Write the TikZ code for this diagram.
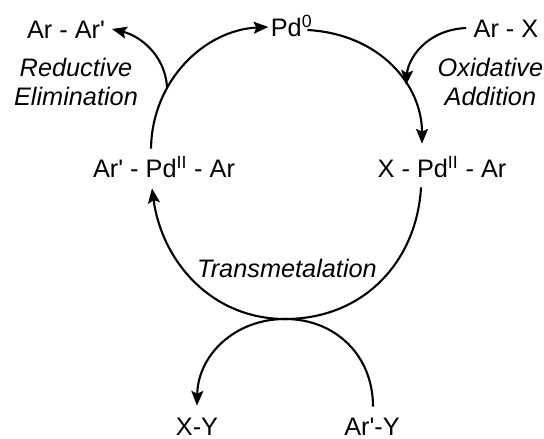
\documentclass[tikz,border=0pt]{standalone}
\usepackage{fontspec}
\setmainfont{Liberation Sans}
\usetikzlibrary{arrows.meta}
\tikzset{
    species/.style={font=\fontsize{18}{20.6}\selectfont, text height=13pt, text depth=0pt, inner xsep=1pt, inner ysep=6.5pt},
    stepname/.style={font=\fontsize{18}{20.6}\selectfont\itshape, align=center, inner sep=0pt}
}
\begin{document}
\begin{tikzpicture}[>={Stealth[length=10.5pt,width=8.5pt,inset=2pt]}, line width=1.5pt]
    \useasboundingbox (0, 0) rectangle (13.6, 10.975);

    % Species
    \node[species] (pdzero) at (7.29, 10.3) {Pd\textsuperscript{0}};
    \node[species] (arar) at (1.65, 10.25) {Ar - Ar\textquotesingle};
    \node[species] (arx) at (12.65, 10.275) {Ar - X};
    \node[species] (arpd) at (4.1, 6.775) {Ar\textquotesingle{} - Pd\textsuperscript{II} - Ar};
    \node[species] (xpd) at (11.05, 6.775) {X - Pd\textsuperscript{II} - Ar};
    \node[species] (xy) at (4.925, 0.31) {X-Y};
    \node[species] (ary) at (9.3, 0.31) {Ar\textquotesingle-Y};

    % Steps
    \node[stepname] (reductive) at (1.9, 8.925) {Reductive\\Elimination};
    \node[stepname] (oxidative) at (12.26, 8.925) {Oxidative\\Addition};
    \node[stepname] (transmet) at (7.175, 4.275) {Transmetalation};

    % Junctions
    \coordinate (elimfork) at (4.175, 8.8);
    \coordinate (addfork) at (10.15, 8.85);
    \coordinate (cycbottom) at (7.125, 3);

    % Cycle
    \draw[->] ([shift={(-0.325, 0)}]arpd.north) .. controls (3.8, 8.975) and (5.125, 10.225) .. (pdzero.west);
    \draw[->] ([shift={(-0.185, -0.075)}]pdzero.east) .. controls (9.5, 10.125) and (10.55, 8.85) .. ([shift={(-0.5, 0.125)}]xpd.north);
    \draw ([shift={(-0.525, 0)}]xpd.south) .. controls (10.425, 4.475) and (9.125, 3) .. (cycbottom);
    \draw[->] (cycbottom) .. controls (5.3, 3) and (4.05, 4.425) .. ([shift={(-0.3, -0.025)}]arpd.south);

    % Side arrows
    \draw[->] (elimfork) .. controls (4.125, 9.6) and (3.5, 10.075) .. ([xshift=0.115cm]arar.east);
    \draw[->] ([xshift=-0.125cm]arx.west) .. controls (10.625, 10.225) and (10.2, 9.475) .. (addfork);
    \draw (ary.north) ++(0.025, 0.015) .. controls (9.325, 2.1) and (8.375, 3) .. (cycbottom);
    \draw[->] (cycbottom) .. controls (5.875, 3) and (4.95, 2.1) .. ([yshift=0.04cm]xy.north);
\end{tikzpicture}
\end{document}
